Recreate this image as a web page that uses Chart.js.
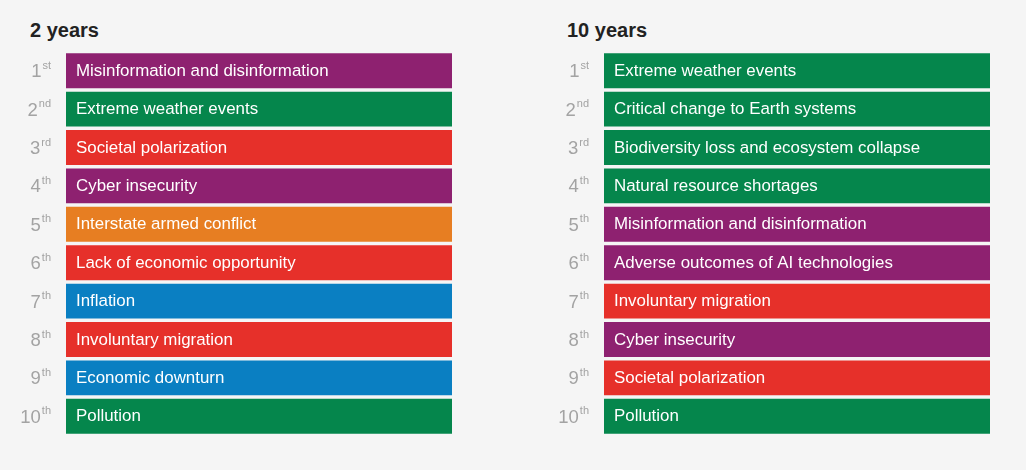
<!DOCTYPE html>
<html>
<head>
<meta charset="utf-8">
<script src="https://cdn.jsdelivr.net/npm/chart.js@4/dist/chart.umd.min.js"></script>
<style>
  html, body { margin: 0; padding: 0; background: #f5f5f5; }
  body { width: 1026px; height: 470px; position: relative; overflow: hidden; font-family: "Liberation Sans", Arial, sans-serif; }
  .title { position: absolute; top: 19px; font-size: 20px; font-weight: bold; color: #222; }
  .box { position: absolute; top: 50px; width: 460px; height: 387px; }
</style>
</head>
<body>
<div class="title" style="left:30px">2 years</div>
<div class="title" style="left:567px">10 years</div>
<div class="box" style="left:0px"><canvas id="short"></canvas></div>
<div class="box" style="left:540px"><canvas id="long"></canvas></div>
<script>
const ranks = [1, 2, 3, 4, 5, 6, 7, 8, 9, 10];
const suffixes = ['st', 'nd', 'rd', 'th', 'th', 'th', 'th', 'th', 'th', 'th'];

const risks2y = [
  'Misinformation and disinformation',
  'Extreme weather events',
  'Societal polarization',
  'Cyber insecurity',
  'Interstate armed conflict',
  'Lack of economic opportunity',
  'Inflation',
  'Involuntary migration',
  'Economic downturn',
  'Pollution'
];
const types2y = ['tech', 'env', 'soc', 'tech', 'geo', 'soc', 'eco', 'soc', 'eco', 'env'];

const risks10y = [
  'Extreme weather events',
  'Critical change to Earth systems',
  'Biodiversity loss and ecosystem collapse',
  'Natural resource shortages',
  'Misinformation and disinformation',
  'Adverse outcomes of AI technologies',
  'Involuntary migration',
  'Cyber insecurity',
  'Societal polarization',
  'Pollution'
];
const types10y = ['env', 'env', 'env', 'env', 'tech', 'tech', 'soc', 'tech', 'soc', 'env'];

const typeColors = {
  tech: '#8e2170',
  env: '#05864c',
  soc: '#e6302a',
  geo: '#e77e22',
  eco: '#0a7fc2'
};

// every bar spans the full row, the rank is the category order
const fullWidth = ranks.map(() => 1);

const rowText = {
  id: 'rowText',
  afterDatasetsDraw(chart) {
    const ctx = chart.ctx;
    const meta = chart.getDatasetMeta(0);
    const left = chart.chartArea.left;
    ctx.save();
    ctx.textBaseline = 'middle';
    meta.data.forEach((bar, i) => {
      // risk name inside bar
      ctx.fillStyle = '#ffffff';
      ctx.font = '16.9px "Liberation Sans", Arial, sans-serif';
      ctx.textAlign = 'left';
      ctx.fillText(chart.data.labels[i], left + 10, bar.y + 0.5);
      // rank with superscript
      ctx.fillStyle = '#a3a3a3';
      ctx.font = '11px "Liberation Sans", Arial, sans-serif';
      ctx.textAlign = 'right';
      const suf = suffixes[i];
      const sx = left - 15;
      ctx.fillText(suf, sx, bar.y - 5);
      const sw = ctx.measureText(suf).width;
      ctx.font = '18.5px "Liberation Sans", Arial, sans-serif';
      ctx.fillText(String(ranks[i]), sx - sw - 1, bar.y + 1.5);
    });
    ctx.restore();
  }
};

function makeChart(id, labels, types, padLeft, padRight) {
  return new Chart(document.getElementById(id), {
    type: 'bar',
    data: {
      labels: labels,
      datasets: [{
        data: fullWidth,
        backgroundColor: types.map(t => typeColors[t]),
        borderWidth: 0,
        barPercentage: 0.91,
        categoryPercentage: 1
      }]
    },
    options: {
      indexAxis: 'y',
      responsive: true,
      maintainAspectRatio: false,
      animation: false,
      layout: { padding: { left: padLeft, right: padRight, top: 1.5, bottom: 1.5 } },
      plugins: { legend: { display: false }, tooltip: { enabled: false } },
      scales: {
        x: { min: 0, max: 1, display: false },
        y: { display: false }
      }
    },
    plugins: [rowText]
  });
}

makeChart('short', risks2y, types2y, 66, 8);
makeChart('long', risks10y, types10y, 64, 10);
</script>
</body>
</html>
